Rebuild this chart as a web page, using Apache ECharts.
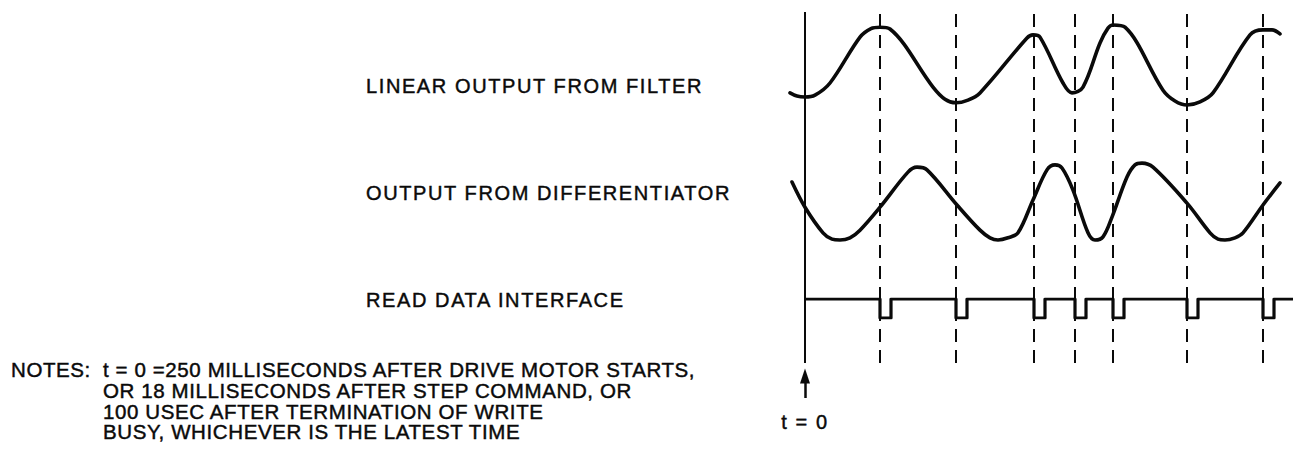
<!DOCTYPE html>
<html><head><meta charset="utf-8">
<script src="https://cdn.jsdelivr.net/npm/echarts@6/dist/echarts.min.js"></script>
<style>
html,body{margin:0;padding:0;background:#fff;}
#chart{width:1308px;height:454px;}
#chart svg text{letter-spacing:1.6px;}
#chart svg text[style*="20.5px"]{letter-spacing:0.6px;}
</style></head><body><div id="chart"></div>
<script>
// time axis (arbitrary units, t = 0 at the solid reference line)
const tMin = -15, tMax = 490;
// linear output from filter
const filterT = [-15,-8,0,10,25,55,66,75,85,128,140,151,163,175,222,228,235,258,267,278,295,303,308,320,358,370,382,395,408,445,458,467,475];
const filterV = [-0.62,-0.69,-0.71,-0.67,-0.40,0.62,0.81,0.84,0.80,-0.49,-0.76,-0.84,-0.78,-0.62,0.60,0.67,0.62,-0.40,-0.62,-0.49,0.49,0.82,0.89,0.84,-0.56,-0.80,-0.89,-0.82,-0.62,0.67,0.78,0.78,0.69];
// output from differentiator
const diffT = [-13,0,18,27,35,45,55,75,103,112,122,152,175,185,193,203,213,228,242,250,257,268,283,290,298,307,322,330,337,348,382,405,413,420,430,438,458,475];
const diffV = [0.40,-0.16,-0.73,-0.87,-0.89,-0.84,-0.67,-0.16,0.62,0.73,0.67,-0.11,-0.67,-0.84,-0.89,-0.84,-0.73,0.00,0.67,0.78,0.71,0.22,-0.73,-0.89,-0.82,-0.38,0.51,0.78,0.82,0.73,-0.07,-0.73,-0.87,-0.89,-0.84,-0.73,-0.11,0.38];
// read data interface: pulse start times (dashed lines) and pulse width
const bitEdges = [75,151,229,270,308,382,458];
const pulseWidth = 11;
const readStart = 0, readEnd = 488;
// texts
const labels = ['LINEAR OUTPUT FROM FILTER','OUTPUT FROM DIFFERENTIATOR','READ DATA INTERFACE'];
const noteHead = 'NOTES:';
const noteLines = ['t = 0 =250 MILLISECONDS AFTER DRIVE MOTOR STARTS,','OR 18 MILLISECONDS AFTER STEP COMMAND, OR','100 USEC AFTER TERMINATION OF WRITE','BUSY, WHICHEVER IS THE LATEST TIME'];
const originLabel = 't = 0';

const INK = '#0a0a0a';
const FONT = "'Liberation Sans', Arial, Helvetica, sans-serif";

const filterData = filterT.map((t,i)=>[t, filterV[i]]);
const diffData = diffT.map((t,i)=>[t, diffV[i]]);
const readData = [[readStart,1]];
bitEdges.forEach(e=>{ readData.push([e,1],[e,0],[e+pulseWidth,0],[e+pulseWidth,1]); });
readData.push([readEnd,1]);

const gx = {left:790, right:13};
function hiddenX(idx){
  return {type:'value', gridIndex:idx, min:tMin, max:tMax, show:false};
}
function hiddenY(idx, min, max){
  return {type:'value', gridIndex:idx, min:min, max:max, show:false};
}
function ts(size, extra){
  return Object.assign({fontFamily:FONT, fontSize:size, fontWeight:'normal', color:INK,
    textBorderColor:INK, textBorderWidth:0.45}, extra||{});
}

const chart = echarts.init(document.getElementById('chart'), null, {renderer:'svg'});
chart.setOption({
  backgroundColor:'#fff',
  animation:false,
  title: [
    {text:labels[0], left:366, top:75.5, padding:0, textStyle:ts(20)},
    {text:labels[1], left:366, top:183, padding:0, textStyle:ts(20)},
    {text:labels[2], left:366, top:289.5, padding:0, textStyle:ts(20)},
    {text:noteHead, left:11, top:359.5, padding:0, textStyle:ts(20.5, {lineHeight:20.7})},
    {text:noteLines.join('\n'), left:103, top:359.5, padding:0, textStyle:ts(20.5, {lineHeight:20.7})}
  ],
  grid: [
    Object.assign({top:12, height:351}, gx),
    Object.assign({top:20, height:90}, gx),
    Object.assign({top:155, height:90}, gx),
    Object.assign({top:299, height:19}, gx),
    Object.assign({top:376, height:22}, gx)
  ],
  xAxis: [
    hiddenX(0), hiddenX(1), hiddenX(2), hiddenX(3),
    {type:'value', gridIndex:4, min:tMin, max:tMax,
     axisLine:{show:false}, axisTick:{show:false}, splitLine:{show:false},
     axisLabel:Object.assign({customValues:[0], formatter:()=>originLabel, margin:14}, ts(20))}
  ],
  yAxis: [hiddenY(0,0,1), hiddenY(1,-1,1), hiddenY(2,-1,1), hiddenY(3,0,1), hiddenY(4,0,1)],
  series: [
    {type:'line', xAxisIndex:0, yAxisIndex:0, data:[], silent:true,
     markLine:{silent:true, symbol:['none','none'], label:{show:false},
       data:[
         {xAxis:0, lineStyle:{type:'solid', width:2, color:INK}},
         ...bitEdges.map(e=>({xAxis:e, lineStyle:{type:[13,8], width:2, color:INK}}))
       ]}},
    {type:'line', name:'filter', xAxisIndex:1, yAxisIndex:1, data:filterData, smooth:0.35,
     showSymbol:false, lineStyle:{width:3.6, color:INK, cap:'round', join:'round'}},
    {type:'line', name:'diff', xAxisIndex:2, yAxisIndex:2, data:diffData, smooth:0.35,
     showSymbol:false, lineStyle:{width:3.6, color:INK, cap:'round', join:'round'}},
    {type:'line', name:'read', xAxisIndex:3, yAxisIndex:3, data:readData,
     showSymbol:false, lineStyle:{width:3.2, color:INK, join:'round'}},
    {type:'line', xAxisIndex:4, yAxisIndex:4, data:[], silent:true,
     markLine:{silent:true, symbol:['none','triangle'], symbolSize:[10,15], label:{show:false},
       lineStyle:{type:'solid', width:2.5, color:INK},
       data:[[{coord:[0,0]},{coord:[0,1]}]]}}
  ]
});
</script></body></html>
